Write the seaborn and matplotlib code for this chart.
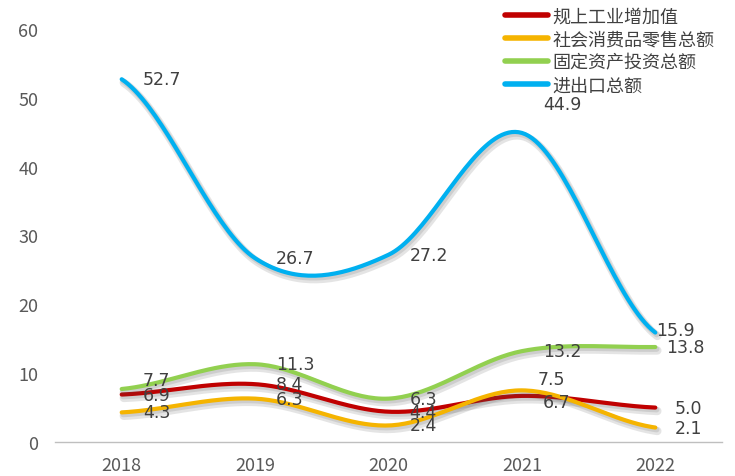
import numpy as np
import pandas as pd
import seaborn as sns
import matplotlib.pyplot as plt
import matplotlib.patheffects as pe

# ----- Data -----
years = ['2018', '2019', '2020', '2021', '2022']
industry = [6.9, 8.4, 4.4, 6.7, 5.0]        # 规上工业增加值
retail = [4.3, 6.3, 2.4, 7.5, 2.1]          # 社会消费品零售总额
investment = [7.7, 11.3, 6.3, 13.2, 13.8]   # 固定资产投资总额
trade = [52.7, 26.7, 27.2, 44.9, 15.9]      # 进出口总额

series_names = ['规上工业增加值', '社会消费品零售总额', '固定资产投资总额', '进出口总额']
series_values = [industry, retail, investment, trade]
colors = ['#C00000', '#F5B400', '#92D050', '#00B0F0']

# label nudges in pixels (dx, dy) where the default spot is not used
label_nudge = {
    (3, 3): (21, 29), (3, 4): (1, 3),
    (2, 0): (21, 9), (2, 4): (11, 0),
    (0, 3): (21, -6), (0, 4): (19, 0),
    (1, 3): (16, 11), (1, 4): (19, 0),
}


# ----- Smooth line (Excel-like Catmull-Rom) -----
def smooth(y, n=40):
    y = np.asarray(y, dtype=float)
    yp = np.concatenate([[y[0]], y, [y[-1]]])
    xs, ys = [], []
    for i in range(len(y) - 1):
        p0, p1, p2, p3 = yp[i], yp[i + 1], yp[i + 2], yp[i + 3]
        m1 = (p2 - p0) / 2
        m2 = (p3 - p1) / 2
        t = np.linspace(0, 1, n, endpoint=(i == len(y) - 2))
        h00 = 2 * t**3 - 3 * t**2 + 1
        h10 = t**3 - 2 * t**2 + t
        h01 = -2 * t**3 + 3 * t**2
        h11 = t**3 - t**2
        xs.append(i + t)
        ys.append(h00 * p1 + h10 * m1 + h01 * p2 + h11 * m2)
    return np.concatenate(xs), np.concatenate(ys)


rows = []
for name, vals in zip(series_names, series_values):
    sx, sy = smooth(vals)
    rows.append(pd.DataFrame({'x': sx, 'y': sy, 'series': name}))
df = pd.concat(rows, ignore_index=True)

# ----- Plot -----
sns.set_style('white')
plt.rcParams['font.family'] = ['Noto Sans CJK SC', 'DejaVu Sans']

fig = plt.figure(figsize=(7.35, 4.77), dpi=100)
ax = fig.add_axes([55 / 735, 34 / 477, 667 / 735, 413 / 477])

sns.lineplot(data=df, x='x', y='y', hue='series', hue_order=series_names,
             palette=colors, linewidth=3, sort=False, ax=ax,
             estimator=None)
for line in ax.get_lines():
    line.set_solid_capstyle('round')
    line.set_path_effects([pe.SimpleLineShadow(offset=(1.5, -2.5), alpha=0.15, shadow_color='#505050', linewidth=6),
                           pe.SimpleLineShadow(offset=(1, -1.5), alpha=0.15, shadow_color='#505050', linewidth=4),
                           pe.Normal()])

# data labels
for si, vals in enumerate(series_values):
    for i, v in enumerate(vals):
        dx, dy = label_nudge.get((si, i), (21, 0))
        ax.annotate(f'{v:.1f}', (i, v), xytext=(dx * 0.72, dy * 0.72),
                    textcoords='offset points', ha='left', va='center',
                    fontsize=12.5, color='#404040', family='DejaVu Sans')

ax.set_xlim(-0.5, 4.5)
ax.set_ylim(0, 60)
ax.set_yticks(range(0, 61, 10))
ax.set_xticks(range(len(years)))
ax.set_xticklabels(years)
ax.set_xticks(np.arange(-0.5, 4.6, 1), minor=True)
ax.tick_params(axis='x', which='major', length=0, pad=10, labelsize=13, labelcolor='#595959')
ax.tick_params(axis='x', which='minor', length=6, color='#BFBFBF', width=1)
ax.tick_params(axis='y', length=0, pad=12, labelsize=13, labelcolor='#595959')
ax.set_xlabel('')
ax.set_ylabel('')
for s in ['top', 'right', 'left']:
    ax.spines[s].set_visible(False)
ax.spines['bottom'].set_color('#BFBFBF')
ax.spines['bottom'].set_linewidth(1)

leg = ax.legend(loc='upper right', bbox_to_anchor=(1.0, 1.07), frameon=False,
                fontsize=13, handlelength=2.4, handletextpad=0.25,
                labelspacing=0.28, borderaxespad=0)
for t in leg.get_texts():
    t.set_color('#404040')
for h in leg.get_lines():
    h.set_linewidth(4)
    h.set_path_effects([])

fig.savefig('out.png', dpi=100)
